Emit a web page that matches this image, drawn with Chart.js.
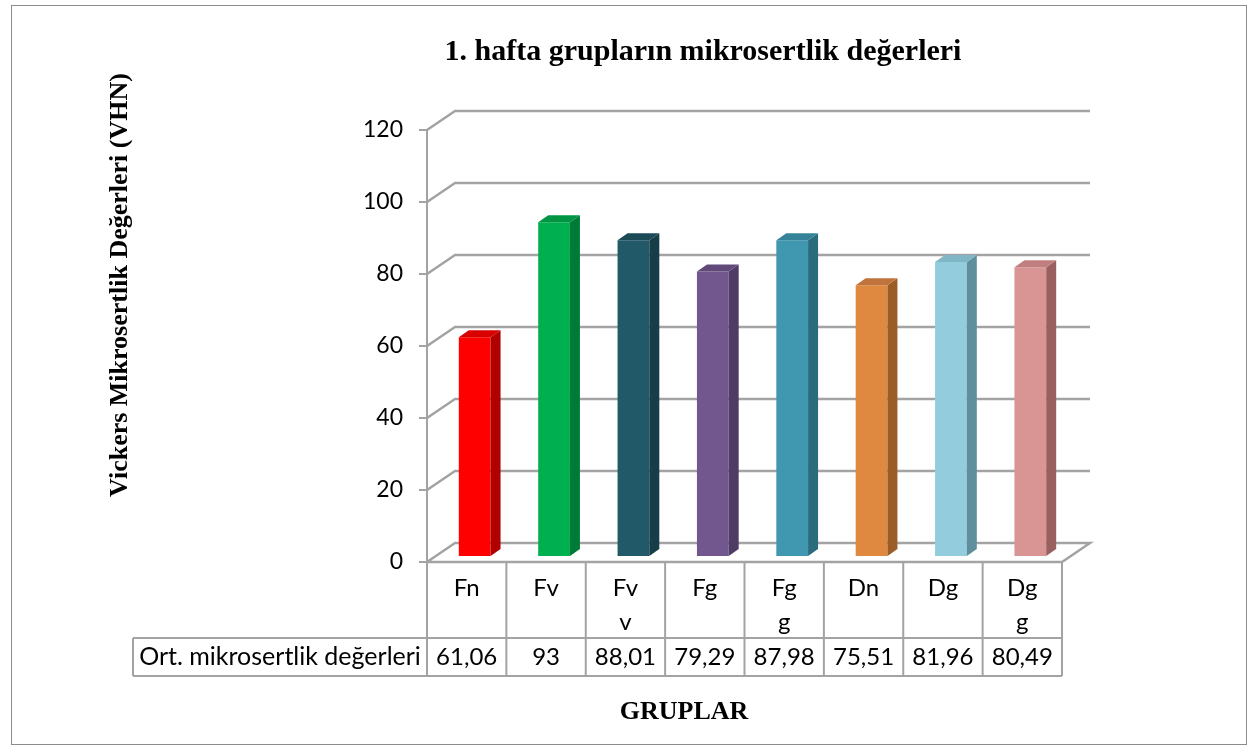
<!DOCTYPE html>
<html>
<head>
<meta charset="utf-8">
<script src="https://cdn.jsdelivr.net/npm/chart.js@4/dist/chart.umd.min.js"></script>
<style>
  html, body { margin: 0; padding: 0; background: #fff; }
  canvas { display: block; }
</style>
</head>
<body>
<canvas id="chart" width="1258" height="749"></canvas>
<script>
const categories = ['Fn', 'Fv', 'Fvv', 'Fg', 'Fgg', 'Dn', 'Dg', 'Dgg'];
const values = [61.06, 93, 88.01, 79.29, 87.98, 75.51, 81.96, 80.49];
const frontColors = ['#ff0000', '#00b050', '#215968', '#72578f', '#3f98b0', '#df8840', '#93cddd', '#d99594'];
const sideColors = ['#b00000', '#007a37', '#163d48', '#4f3c64', '#2a6c7e', '#9c5c26', '#5f8f9c', '#9a605f'];
const topColors = ['#d80000', '#009443', '#1b4a57', '#614a7a', '#358398', '#c0733a', '#7fb5c4', '#c07f7e'];

const titleText = '1. hafta grupların mikrosertlik değerleri';
const yTitle = 'Vickers Mikrosertlik Değerleri (VHN)';
const xTitle = 'GRUPLAR';
const rowHeader = 'Ort. mikrosertlik değerleri';

const DX = 28, DY = 19;        // wall depth
const BX = 10, BY = 7;         // bar depth
const SX = 8, SY = 5;          // bar position inside the floor
const lineCol = '#a3a3a3';

const chartDeco = {
    id: 'chartDeco',
    beforeDraw(chart) {
        const ctx = chart.ctx;
        ctx.save();
        ctx.fillStyle = '#fff';
        ctx.fillRect(0, 0, chart.width, chart.height);
        ctx.strokeStyle = '#8c8c8c';
        ctx.lineWidth = 1;
        ctx.strokeRect(11.5, 5.5, 1235, 739);
        ctx.restore();
    },
    beforeDatasetsDraw(chart) {
        const ctx = chart.ctx, y = chart.scales.y, a = chart.chartArea;
        ctx.save();
        ctx.strokeStyle = lineCol;
        ctx.lineWidth = 2.5;
        y.ticks.forEach(t => {
            const py = y.getPixelForValue(t.value);
            ctx.beginPath();
            ctx.moveTo(a.left, py);
            ctx.lineTo(a.left + DX, py - DY);
            ctx.lineTo(a.right + DX, py - DY);
            if (t.value === 0) {
                ctx.lineTo(a.right, py);
                ctx.lineTo(a.left, py);
            }
            ctx.stroke();
        });
        ctx.restore();
        ctx.save();
        ctx.translate(SX, -SY);
    },
    afterDatasetsDraw(chart) {
        const ctx = chart.ctx;
        const meta = chart.getDatasetMeta(0);
        meta.data.forEach((bar, i) => {
            const l = bar.x - bar.width / 2, r = bar.x + bar.width / 2;
            const top = bar.y, base = bar.base;
            ctx.fillStyle = sideColors[i];
            ctx.beginPath();
            ctx.moveTo(r, top);
            ctx.lineTo(r + BX, top - BY);
            ctx.lineTo(r + BX, base - BY);
            ctx.lineTo(r, base);
            ctx.closePath();
            ctx.fill();
            ctx.fillStyle = topColors[i];
            ctx.beginPath();
            ctx.moveTo(l, top);
            ctx.lineTo(l + BX, top - BY);
            ctx.lineTo(r + BX, top - BY);
            ctx.lineTo(r, top);
            ctx.closePath();
            ctx.fill();
        });
        ctx.restore();
    },
    afterDraw(chart) {
        const ctx = chart.ctx, x = chart.scales.x, a = chart.chartArea;
        const cw = (a.right - a.left) / categories.length;
        const rowMid = 638, rowBot = 676, headLeft = 133;
        ctx.save();
        // data table
        ctx.strokeStyle = lineCol;
        ctx.lineWidth = 2;
        ctx.beginPath();
        for (let i = 0; i <= categories.length; i++) {
            const px = a.left + i * cw;
            ctx.moveTo(px, a.bottom);
            ctx.lineTo(px, rowBot);
        }
        ctx.moveTo(headLeft, rowMid); ctx.lineTo(a.right, rowMid);
        ctx.moveTo(headLeft, rowBot); ctx.lineTo(a.right, rowBot);
        ctx.moveTo(headLeft, rowMid); ctx.lineTo(headLeft, rowBot);
        ctx.stroke();

        ctx.fillStyle = '#000';
        ctx.font = '24px Lato';
        ctx.textAlign = 'center';
        ctx.textBaseline = 'middle';
        categories.forEach((c, i) => {
            const cx = x.getPixelForValue(i);
            const lines = [c.slice(0, 2), c.slice(2)].filter(s => s.length);
            lines.forEach((s, k) => ctx.fillText(s, cx, 588 + k * 34));
            ctx.fillText(String(values[i]).replace('.', ','), cx, 657);
        });
        ctx.font = '25px Lato';
        ctx.fillText(rowHeader, (headLeft + a.left) / 2, 657);

        // titles
        ctx.font = 'bold 30px "Liberation Serif"';
        ctx.fillText(titleText, 703, 52);
        ctx.font = 'bold 26px "Liberation Serif"';
        ctx.fillText(xTitle, 684, 712);
        ctx.translate(120, 285);
        ctx.rotate(-Math.PI / 2);
        ctx.font = 'bold 26px "Liberation Serif"';
        ctx.fillText(yTitle, 0, 0);
        ctx.restore();
    }
};

new Chart(document.getElementById('chart').getContext('2d'), {
    type: 'bar',
    data: {
        labels: categories,
        datasets: [{
            data: values,
            backgroundColor: frontColors,
            borderWidth: 0,
            barPercentage: 0.4,
            categoryPercentage: 1
        }]
    },
    options: {
        responsive: false,
        animation: false,
        devicePixelRatio: 1,
        layout: { padding: { left: 347, right: 196, top: 130, bottom: 187 } },
        plugins: { legend: { display: false }, title: { display: false }, tooltip: { enabled: false } },
        scales: {
            x: { display: false },
            y: {
                min: 0, max: 120,
                afterFit: s => { s.width = 80; },
                ticks: { stepSize: 20, color: '#000', padding: 16, font: { family: 'Lato', size: 23 } },
                grid: { drawOnChartArea: false, tickLength: 8, color: lineCol, lineWidth: 2 },
                border: { color: lineCol, width: 2 }
            }
        }
    },
    plugins: [chartDeco]
});
</script>
</body>
</html>
